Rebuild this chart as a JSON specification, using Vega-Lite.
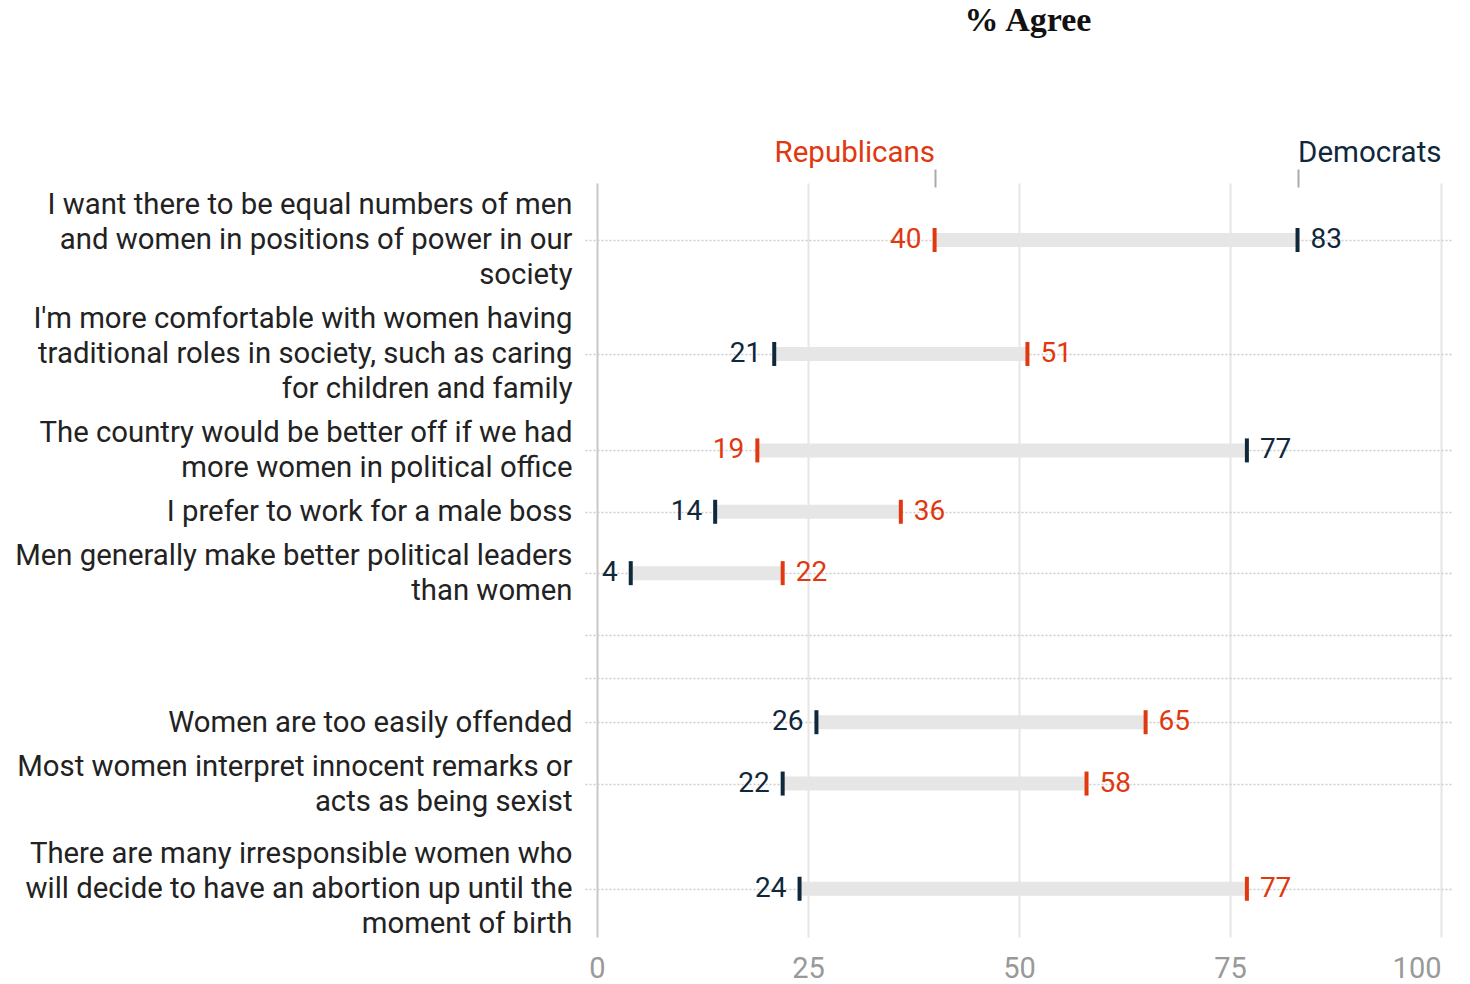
{
  "$schema": "https://vega.github.io/schema/vega-lite/v6.json",
  "width": 868,
  "height": 754,
  "autosize": {"type": "none"},
  "padding": {"left": 585, "top": 183, "right": 17, "bottom": 47},
  "background": "white",
  "title": {"text": "% Agree", "font": "Liberation Serif", "fontWeight": "bold", "fontSize": 34, "color": "#111111", "anchor": "middle", "frame": "group", "baseline": "alphabetic", "offset": 72, "dx": 9},
  "config": {"view": {"stroke": null}, "font": "Roboto"},
  "data": {"values": [
    {"question": "I want there to be equal numbers of men|and women in positions of power in our|society", "rep": 40, "dem": 83},
    {"question": "I'm more comfortable with women having|traditional roles in society, such as caring|for children and family", "rep": 51, "dem": 21},
    {"question": "The country would be better off if we had|more women in political office", "rep": 19, "dem": 77},
    {"question": "I prefer to work for a male boss", "rep": 36, "dem": 14},
    {"question": "Men generally make better political leaders|than women", "rep": 22, "dem": 4},
    {"question": "Women are too easily offended", "rep": 65, "dem": 26},
    {"question": "Most women interpret innocent remarks or|acts as being sexist", "rep": 58, "dem": 22},
    {"question": "There are many irresponsible women who|will decide to have an abortion up until the|moment of birth", "rep": 77, "dem": 24}
  ]},
  "encoding": {
    "y": {
      "field": "question",
      "type": "ordinal",
      "scale": {
        "type": "point",
        "padding": 0.5,
        "domain": [
          "_0","_1","_2","_3","_4","_5",
          "I want there to be equal numbers of men|and women in positions of power in our|society",
          "_7","_8","_9","_10","_11","_12","_13","_14","_15","_16","_17","_18",
          "I'm more comfortable with women having|traditional roles in society, such as caring|for children and family",
          "_20","_21","_22","_23","_24","_25","_26","_27","_28","_29",
          "The country would be better off if we had|more women in political office",
          "_31","_32","_33","_34","_35","_36",
          "I prefer to work for a male boss",
          "_38","_39","_40","_41","_42","_43",
          "Men generally make better political leaders|than women",
          "_45","_46","_47","_48","_49","_50",
          "_e1",
          "_52","_53","_54","_55",
          "_e2",
          "_57","_58","_59","_60",
          "Women are too easily offended",
          "_62","_63","_64","_65","_66","_67",
          "Most women interpret innocent remarks or|acts as being sexist",
          "_69","_70","_71","_72","_73","_74","_75","_76","_77","_78","_79",
          "There are many irresponsible women who|will decide to have an abortion up until the|moment of birth",
          "_81","_82","_83","_84","_85"
        ]
      },
      "axis": {
        "title": null,
        "values": [
          "I want there to be equal numbers of men|and women in positions of power in our|society",
          "I'm more comfortable with women having|traditional roles in society, such as caring|for children and family",
          "The country would be better off if we had|more women in political office",
          "I prefer to work for a male boss",
          "Men generally make better political leaders|than women",
          "_e1",
          "_e2",
          "Women are too easily offended",
          "Most women interpret innocent remarks or|acts as being sexist",
          "There are many irresponsible women who|will decide to have an abortion up until the|moment of birth"
        ],
        "labelExpr": "indexof(datum.value, '_') == 0 ? '' : split(datum.value, '|')",
        "labelFont": "Roboto",
        "labelFontSize": 29.3,
        "labelColor": "#222222",
        "labelLineHeight": 35,
        "labelPadding": 13,
        "labelLimit": 700,
        "labelOverlap": false,
        "labelOffset": {"condition": [
          {"test": "length(split(datum.value, '|')) == 3", "value": -35},
          {"test": "length(split(datum.value, '|')) == 2", "value": -17.5}
        ], "value": 0},
        "ticks": false,
        "domain": false,
        "grid": true,
        "gridColor": "#cccccc",
        "gridDash": [2, 2],
        "gridWidth": 1.5
      }
    }
  },
  "layer": [
    {
      "mark": {"type": "rule", "strokeWidth": 14, "color": "#e6e6e6", "strokeCap": "butt"},
      "encoding": {
        "x": {
          "field": "rep",
          "type": "quantitative",
          "scale": {"domain": [-1.42, 101.42], "nice": false, "zero": false},
          "axis": {
            "title": null,
            "values": [0, 25, 50, 75, 100],
            "labelFont": "Roboto",
            "labelFontSize": 29,
            "labelColor": "#999999",
            "labelPadding": 17,
            "labelFlush": false,
            "labelOverlap": false,
            "labelAlign": {"condition": {"test": "datum.value == 100", "value": "right"}, "value": "center"},
            "ticks": false,
            "domain": false,
            "grid": true,
            "gridColor": {"condition": {"test": "datum.value === 0", "value": "#c8c8c8"}, "value": "#e6e6e6"},
            "gridWidth": 2
          }
        },
        "x2": {"field": "dem"}
      }
    },
    {
      "mark": {"type": "tick", "color": "#e0380f", "opacity": 1, "size": 24, "thickness": 4, "orient": "vertical"},
      "encoding": {"x": {"field": "rep", "type": "quantitative", "axis": null}}
    },
    {
      "mark": {"type": "tick", "color": "#0f283b", "opacity": 1, "size": 24, "thickness": 4, "orient": "vertical"},
      "encoding": {
        "x": {
          "field": "dem",
          "type": "quantitative",
          "axis": {
            "orient": "top",
            "title": null,
            "values": [40, 83],
            "labelExpr": "datum.value == 40 ? 'Republicans' : 'Democrats'",
            "labelFont": "Roboto",
            "labelFontSize": 29.5,
            "labelColor": {"condition": {"test": "datum.value == 40", "value": "#e0380f"}, "value": "#0f283b"},
            "labelAlign": {"condition": {"test": "datum.value == 40", "value": "right"}, "value": "left"},
            "labelFlush": false,
            "labelOverlap": false,
            "labelPadding": 2,
            "grid": false,
            "domain": false,
            "ticks": true,
            "tickSize": 18,
            "tickWidth": 2,
            "tickColor": "#aaaaaa",
            "offset": -4
          }
        }
      }
    },
    {
      "mark": {"type": "text", "font": "Roboto", "fontSize": 28, "baseline": "middle", "color": "#e0380f",
        "align": {"expr": "datum.rep < datum.dem ? 'right' : 'left'"},
        "dx": {"expr": "datum.rep < datum.dem ? -13 : 13"}},
      "encoding": {"x": {"field": "rep", "type": "quantitative", "axis": null}, "text": {"field": "rep"}}
    },
    {
      "mark": {"type": "text", "font": "Roboto", "fontSize": 28, "baseline": "middle", "color": "#0f283b",
        "align": {"expr": "datum.dem < datum.rep ? 'right' : 'left'"},
        "dx": {"expr": "datum.dem < datum.rep ? -13 : 13"}},
      "encoding": {"x": {"field": "dem", "type": "quantitative", "axis": null}, "text": {"field": "dem"}}
    }
  ],
  "resolve": {"axis": {"x": "independent"}}
}
